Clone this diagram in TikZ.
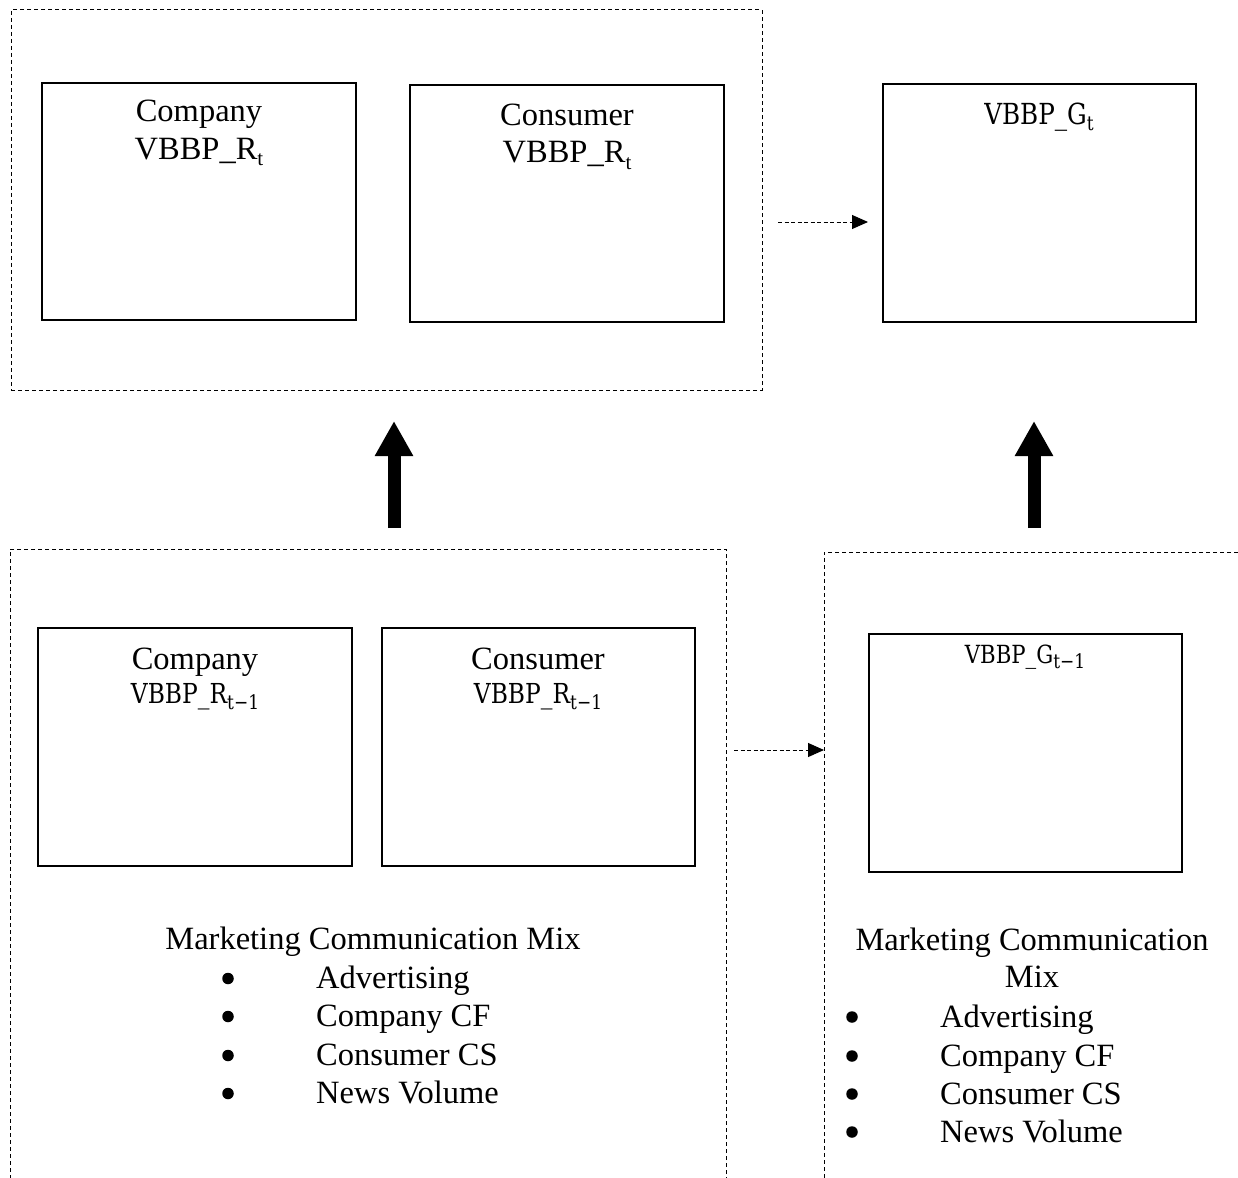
\documentclass[tikz,border=0pt]{standalone}
\usepackage{fontspec}
\setmainfont{Liberation Serif}
\newfontfamily\cam[FakeStretch=0.85]{DejaVu Serif}
\usetikzlibrary{arrows.meta}
\newcommand\tsub[1]{\raisebox{-6pt}{\fontsize{21}{21}\selectfont #1}}
\newcommand\csub[2]{\raisebox{-#1}{\fontsize{20}{20}\selectfont #2}}
\tikzset{
  solidbox/.style={draw, line width=1.2pt, inner sep=0pt},
  dashbox/.style={draw, line width=1pt, dash pattern=on 4pt off 3pt, inner sep=0pt},
  lbl/.style={inner sep=0pt, anchor=base, font=\fontsize{32.5}{39}\selectfont},
  clbl/.style={inner sep=0pt, anchor=base},
  itm/.style={inner sep=0pt, anchor=base west, font=\fontsize{32.5}{39}\selectfont},
  bul/.style={circle, fill, inner sep=0pt, minimum size=11.5pt},
  dasharrow/.style={dash pattern=on 4pt off 2.5pt, line width=1pt, -{Triangle[length=16pt,width=14pt]}},
  bigarrow/.style={line width=13pt, -{Triangle[length=35pt,width=36pt]}},
}
\begin{document}
\begin{tikzpicture}[x=1pt,y=-1pt]
\useasboundingbox (0,0) rectangle (1238,1177);
% dashed groups
\node[dashbox, minimum width=751pt, minimum height=380pt] (TL) at (386.5,200) {};
\node[dashbox, minimum width=716pt, minimum height=651pt] (BL) at (368,874.5) {};
\node[dashbox, minimum width=436pt, minimum height=648pt] (BR) at (1042,876) {};
% solid boxes
\node[solidbox, minimum width=314pt, minimum height=237pt] (cR) at (199,201.5) {};
\node[solidbox, minimum width=314pt, minimum height=237pt] (uR) at (567,203.5) {};
\node[solidbox, minimum width=313pt, minimum height=238pt] (G) at (1039.5,203) {};
\node[solidbox, minimum width=314pt, minimum height=238pt] (cR1) at (195,747) {};
\node[solidbox, minimum width=313pt, minimum height=238pt] (uR1) at (538.5,747) {};
\node[solidbox, minimum width=313pt, minimum height=238pt] (G1) at (1025.5,753) {};
% labels
\node[lbl] (t1) at (199,122) {Company};
\node[lbl] (t2) at (199,160) {VBBP\_R\tsub{t}};
\node[lbl] (t3) at (567,126) {Consumer};
\node[lbl] (t4) at (567,163) {VBBP\_R\tsub{t}};
\node[clbl, font=\cam\fontsize{29}{34}\selectfont] (t5) at (1039,125) {VBBP\_G\csub{6pt}{t}};
\node[lbl] (t6) at (195,669) {Company};
\node[clbl, font=\cam\fontsize{27.5}{32}\selectfont] (t7) at (195,703) {VBBP\_R\csub{6pt}{t−1}};
\node[lbl] (t8) at (538,669) {Consumer};
\node[clbl, font=\cam\fontsize{27.5}{32}\selectfont] (t9) at (538,703) {VBBP\_R\csub{6pt}{t−1}};
\node[clbl, font=\cam\fontsize{25}{30}\selectfont] (t10) at (1025,663) {VBBP\_G\csub{5pt}{t−1}};
% bottom-left list
\node[lbl] (m1) at (373,949) {Marketing Communication Mix};
\foreach \yy/\tx [count=\i] in {988/Advertising,1026/Company CF,1065/Consumer CS,1103/News Volume}{
  \node[bul] (lb\i) at (228,\yy-9.5) {};
  \node[itm] (li\i) at (316,\yy) {\tx};
}
% bottom-right list
\node[lbl] (m2) at (1032,950) {Marketing Communication};
\node[lbl] (m3) at (1032,987) {Mix};
\foreach \yy/\tx [count=\i] in {1027/Advertising,1066/Company CF,1104/Consumer CS,1142/News Volume}{
  \node[bul] (rb\i) at (852,\yy-10) {};
  \node[itm] (ri\i) at (940,\yy) {\tx};
}
% connectors
\coordinate (d1s) at (778,222);
\coordinate (d1e) at (868,222);
\coordinate (d2s) at (734,750);
\coordinate (d2e) at (824,750);
\draw[dasharrow] (d1s) -- (d1e);
\draw[dasharrow] (d2s) -- (d2e);
\coordinate (a1s) at (394,528);
\coordinate (a1e) at (394,421);
\coordinate (a2s) at (1034,528);
\coordinate (a2e) at (1034,421);
\draw[bigarrow] (a1s) -- (a1e);
\draw[bigarrow] (a2s) -- (a2e);
\end{tikzpicture}
\end{document}
